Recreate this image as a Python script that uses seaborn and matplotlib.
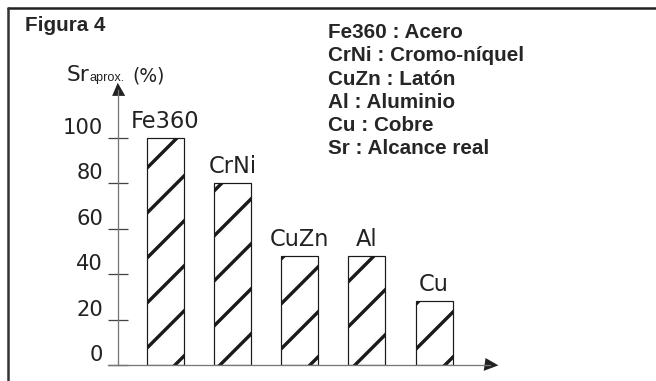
import numpy as np
import pandas as pd
import matplotlib.pyplot as plt
from matplotlib.lines import Line2D
import seaborn as sns

# Datos
metales = ["Fe360", "CrNi", "CuZn", "Al", "Cu"]
alcance = [100, 80, 48, 48, 28]
ticks_y = [0, 20, 40, 60, 80, 100]
leyenda = ["Fe360 : Acero", "CrNi : Cromo-níquel", "CuZn : Latón",
           "Al : Aluminio", "Cu : Cobre", "Sr : Alcance real"]

DPI = 270
PX = 72 / DPI  # un pixel en puntos

sns.set_style("white")
plt.rcParams["hatch.linewidth"] = 3.4 * PX
plt.rcParams["hatch.color"] = "black"
plt.rcParams["font.family"] = ["DejaVu Sans"]

fig = plt.figure(figsize=(656 / DPI, 381 / DPI), dpi=DPI)
W, H = 656, 381
ax = fig.add_axes([108 / W, 16 / H, 382 / W, 275 / H])

df = pd.DataFrame({"metal": metales, "alcance": alcance})
sns.barplot(data=df, x="metal", y="alcance", color="white", width=0.55,
            edgecolor="#1a1a1a", linewidth=1.2 * PX, hatch="//", ax=ax,
            saturation=1)

ax.set_xlim(-0.85, 4.83)
ax.set_ylim(0, 121)

# Ejes
for s in ["top", "right"]:
    ax.spines[s].set_visible(False)
ax.spines["left"].set_position(("data", -0.70))
ax.spines["left"].set_bounds(0, 121)
for s in ["left", "bottom"]:
    ax.spines[s].set_color("#777777")
    ax.spines[s].set_linewidth(1.3 * PX)
ax.plot(1, 0, ">", color="#222222", ms=7 * PX, transform=ax.transAxes, clip_on=False)
ax.plot(0.15 / 5.68, 1, "^", color="#222222", ms=7 * PX, transform=ax.transAxes, clip_on=False)

ax.set_xticks([])
ax.set_xlabel("")
ax.set_ylabel("")
ax.set_yticks(ticks_y)
ax.set_yticklabels([str(t) for t in ticks_y])
ax.tick_params(axis="y", direction="inout", length=20 * PX, width=1.3 * PX,
               color="#444444", pad=5 * PX, labelsize=5.6, left=True)
for lbl in ax.get_yticklabels():
    lbl.set_va("bottom")
    lbl.set_color("#222222")

# Etiquetas de barras
for i, (m, v) in enumerate(zip(metales, alcance)):
    ax.annotate(m, (i, v), xytext=(0, 10 * PX), textcoords="offset points",
                ha="center", va="baseline", fontsize=6.0, color="#222222")

# Etiqueta del eje y
fig.text(67 / W, 1 - 81 / H, "Sr", fontsize=5.8, va="baseline",
         color="#222222")
fig.text(89 / W, 1 - 81 / H, "aprox.", fontsize=3.4, va="baseline",
         family=["Liberation Sans", "DejaVu Sans"], color="#222222")
fig.text(132 / W, 1 - 81 / H, "(%)", fontsize=5.0, va="baseline",
         color="#222222")

# Titulo y leyenda
fig.text(25 / W, 1 - 31 / H, "Figura 4", fontsize=5.5, fontweight="bold",
         va="baseline", family=["Liberation Sans", "DejaVu Sans"])
for k, t in enumerate(leyenda):
    fig.text(328 / W, 1 - (38 + 23.3 * k) / H, t, fontsize=5.5,
             fontweight="bold", va="baseline",
             family=["Liberation Sans", "DejaVu Sans"])

# Marco
fig.add_artist(Line2D([8 / W, 1], [1 - 8 / H, 1 - 8 / H], color="#222222",
                      lw=2.5 * PX, transform=fig.transFigure))
fig.add_artist(Line2D([8 / W, 8 / W], [0, 1 - 8 / H], color="#333333",
                      lw=2.5 * PX, transform=fig.transFigure))

fig.savefig("out.png", dpi=DPI)
